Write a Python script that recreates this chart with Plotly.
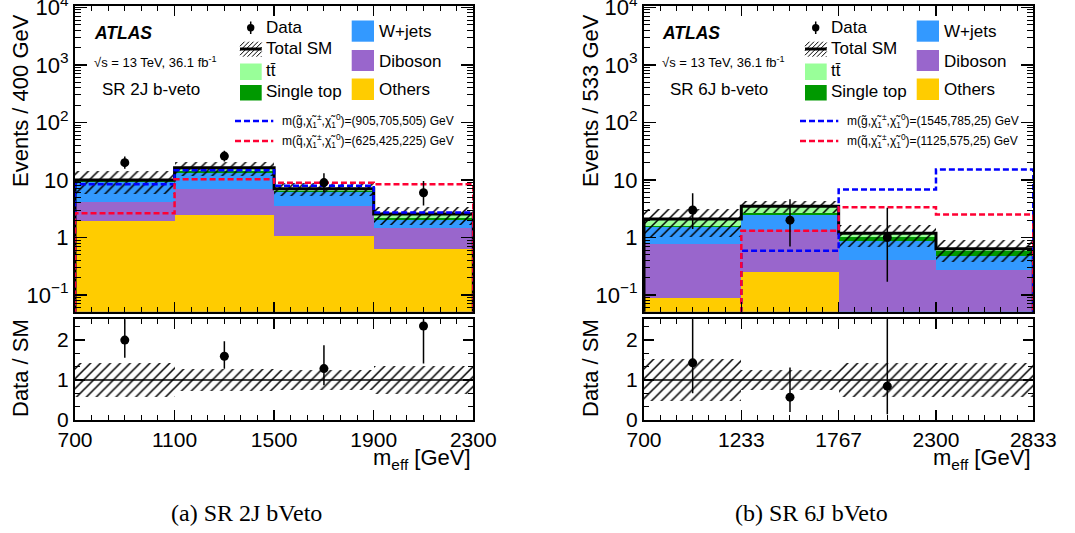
import numpy as np
import plotly.graph_objects as go

W, H = 1075, 533
FONT = "Liberation Sans"
SERIF = "Liberation Serif"

# ---------------- data ----------------
edges_2j = [700, 1100, 1500, 1900, 2300]
edges_6j = [700, 1233.33, 1766.67, 2300, 2833.33]
xtick_text_2j = ["700", "1100", "1500", "1900", "2300"]
xtick_text_6j = ["700", "1233", "1767", "2300", "2833"]

others_2j = [1.9, 2.5, 1.08, 0.62]
diboson_2j = [2.3, 4.4, 2.42, 0.83]
wjets_2j = [5.0, 6.1, 2.7, 0.55]
singletop_2j = [0.3, 1.5, 0.3, 0.2]
ttbar_2j = [0.5, 1.8, 0.5, 0.35]
unc_2j = [0.42, 0.28, 0.26, 0.35]
data_2j = [20, 26, 9, 6]
data_up_2j = [5.5, 6.1, 4.1, 3.6]
data_dn_2j = [4.4, 5.1, 2.9, 2.4]
sig_blue_2j = [8.4, 14.8, 7.95, 2.72]
sig_red_2j = [2.65, 10.3, 8.9, 8.4]

others_6j = [0.087, 0.25, 0.0, 0.0]
diboson_6j = [0.69, 1.1, 0.4, 0.27]
wjets_6j = [0.72, 1.15, 0.48, 0.2]
singletop_6j = [0.08, 0.15, 0.12, 0.11]
ttbar_6j = [0.52, 0.85, 0.18, 0.06]
unc_6j = [0.52, 0.24, 0.42, 0.42]
data_6j = [3, 2, 1, 0]
data_up_6j = [2.9, 2.6, 2.3, 0]
data_dn_6j = [1.6, 1.3, 0.83, 0]
sig_blue_6j = [0.01, 0.59, 6.8, 15.2]
sig_red_6j = [0.01, 1.31, 3.37, 2.5]

sig_blue_label_2j = "m(g\u0303,χ\u0303<sub>1</sub><sup>±</sup>,χ\u0303<sub>1</sub><sup>0</sup>)=(905,705,505) GeV"
sig_red_label_2j = "m(q\u0303,χ\u0303<sub>1</sub><sup>±</sup>,χ\u0303<sub>1</sub><sup>0</sup>)=(625,425,225) GeV"
sig_blue_label_6j = "m(g\u0303,χ\u0303<sub>1</sub><sup>±</sup>,χ\u0303<sub>1</sub><sup>0</sup>)=(1545,785,25) GeV"
sig_red_label_6j = "m(q\u0303,χ\u0303<sub>1</sub><sup>±</sup>,χ\u0303<sub>1</sub><sup>0</sup>)=(1125,575,25) GeV"

C_OTH = "#FFCC00"
C_DIB = "#9966CC"
C_W = "#3399FF"
C_ST = "#009900"
C_TT = "#99FF99"
C_BLUE = "#0000FF"
C_RED = "#FF0033"


def px(x):
    return x / W


def py(y):
    return 1 - y / H


fig = go.Figure()

panels = [
    dict(edges=edges_2j, ticktext=xtick_text_2j,
         comps=[(others_2j, C_OTH), (diboson_2j, C_DIB), (wjets_2j, C_W), (singletop_2j, C_ST), (ttbar_2j, C_TT)],
         unc=unc_2j, data=data_2j, up=data_up_2j, dn=data_dn_2j, s1=sig_blue_2j, s2=sig_red_2j,
         xa="x", ya="y", xr="x2", yr="y2"),
    dict(edges=edges_6j, ticktext=xtick_text_6j,
         comps=[(others_6j, C_OTH), (diboson_6j, C_DIB), (wjets_6j, C_W), (singletop_6j, C_ST), (ttbar_6j, C_TT)],
         unc=unc_6j, data=data_6j, up=data_up_6j, dn=data_dn_6j, s1=sig_blue_6j, s2=sig_red_6j,
         xa="x3", ya="y3", xr="x4", yr="y4"),
]

LOW = 1e-4
hatch = dict(shape="/", fgcolor="black", bgcolor="rgba(0,0,0,0)", size=7, solidity=0.22,
             fgopacity=1, fillmode="overlay")

for p in panels:
    e = p["edges"]
    centers = [(e[i] + e[i + 1]) / 2 for i in range(len(e) - 1)]
    widths = [e[i + 1] - e[i] for i in range(len(e) - 1)]
    vals = np.array([c for c, _ in p["comps"]], dtype=float)
    cum = np.cumsum(vals, axis=0)
    total = cum[-1]
    # stacked histogram drawn as overlaid cumulative bars (top-most first)
    for k in reversed(range(len(p["comps"]))):
        fig.add_trace(go.Bar(x=centers, y=cum[k], width=widths, xaxis=p["xa"], yaxis=p["ya"],
                             marker=dict(color=p["comps"][k][1], line=dict(width=0)),
                             opacity=1, showlegend=False, hoverinfo="skip"))
    unc = np.array(p["unc"])
    # hatched uncertainty band
    fig.add_trace(go.Bar(x=centers, y=total * 2 * unc, base=total * (1 - unc), width=widths,
                         xaxis=p["xa"], yaxis=p["ya"],
                         marker=dict(color="rgba(0,0,0,0)", line=dict(width=0), pattern=hatch),
                         showlegend=False, hoverinfo="skip"))
    xs = [e[0]] + list(e) + [e[-1]]
    # total SM line
    fig.add_trace(go.Scatter(x=xs, y=[LOW] + list(total) + [total[-1], LOW], mode="lines",
                             line=dict(shape="hv", color="black", width=3),
                             xaxis=p["xa"], yaxis=p["ya"], showlegend=False, hoverinfo="skip"))
    # signals
    for s, col in ((p["s1"], C_BLUE), (p["s2"], C_RED)):
        fig.add_trace(go.Scatter(x=xs, y=[LOW] + list(s) + [s[-1], LOW], mode="lines",
                                 line=dict(shape="hv", color=col, width=2.5, dash="6px,3px"),
                                 xaxis=p["xa"], yaxis=p["ya"], showlegend=False, hoverinfo="skip"))
    # data
    idx = [i for i, d in enumerate(p["data"]) if d > 0]
    dx = [centers[i] for i in idx]
    dy = [p["data"][i] for i in idx]
    dup = [p["up"][i] for i in idx]
    ddn = [p["dn"][i] for i in idx]
    fig.add_trace(go.Scatter(x=dx, y=dy, mode="markers",
                             marker=dict(color="black", size=9),
                             error_y=dict(type="data", array=dup, arrayminus=ddn, color="black", thickness=1.5, width=0),
                             xaxis=p["xa"], yaxis=p["ya"], showlegend=False, hoverinfo="skip"))
    # ratio panel
    fig.add_trace(go.Bar(x=centers, y=2 * unc, base=1 - unc, width=widths,
                         xaxis=p["xr"], yaxis=p["yr"],
                         marker=dict(color="rgba(0,0,0,0)", line=dict(width=0), pattern=hatch),
                         showlegend=False, hoverinfo="skip"))
    fig.add_trace(go.Scatter(x=[e[0], e[-1]], y=[1, 1], mode="lines", line=dict(color="black", width=1.5),
                             xaxis=p["xr"], yaxis=p["yr"], showlegend=False, hoverinfo="skip"))
    rt = [total[i] for i in idx]
    fig.add_trace(go.Scatter(x=dx, y=[d / t for d, t in zip(dy, rt)], mode="markers",
                             marker=dict(color="black", size=9),
                             error_y=dict(type="data", array=[u / t for u, t in zip(dup, rt)],
                                          arrayminus=[u / t for u, t in zip(ddn, rt)],
                                          color="black", thickness=1.5, width=0),
                             xaxis=p["xr"], yaxis=p["yr"], showlegend=False, hoverinfo="skip"))

# ---------------- axes ----------------
XL = [75, 473.3]
XR = [644, 1033.3]
YM = [6.2, 311.7]
YRt = [319.3, 420]

base_ax = dict(showline=True, linecolor="black", linewidth=2, mirror="ticks", ticks="inside",
               tickcolor="black", tickwidth=1.5, showgrid=False, zeroline=False, automargin=False,
               ticklabeloverflow="allow",
               tickfont=dict(family=FONT, size=21, color="black"))

minor_logvals = [d * 10.0 ** ex for ex in range(-2, 4) for d in range(2, 10)]
minor_logvals = [v for v in minor_logvals if 0.05 <= v <= 1e4]
logvals = [0.1, 1, 10, 100, 1000, 10000]
logtext = ["10<sup>\u22121</sup>", "1", "10", "10<sup>2</sup>", "10<sup>3</sup>", "10<sup>4</sup>"]


def xaxis_def(xd, yanchor, p, labels):
    e = p["edges"]
    d = dict(base_ax)
    d.update(domain=[px(xd[0]), px(xd[1])], anchor=yanchor, range=[e[0], e[-1]],
             tickmode="array", tickvals=e, ticktext=p["ticktext"], ticklen=10,
             showticklabels=labels,
             minor=dict(ticks="inside", ticklen=5, tickmode="linear", tick0=e[0],
                        dtick=(e[1] - e[0]) / 6, tickcolor="black", tickwidth=1))
    return d


def ymain_def(xanchor):
    d = dict(base_ax)
    d.update(domain=[py(YM[1]), py(YM[0])], anchor=xanchor, type="log", range=[-1.29, 4.02],
             tickmode="array", tickvals=logvals, ticktext=logtext, ticklen=12,
             tickfont=dict(family=FONT, size=22, color="black"),
             minor=dict(ticks="inside", ticklen=6, tickmode="array", tickvals=minor_logvals,
                        tickcolor="black", tickwidth=1))
    return d


def yrat_def(xanchor):
    d = dict(base_ax)
    d.update(domain=[py(YRt[1]), py(YRt[0])], anchor=xanchor, range=[0, 2.52],
             tickmode="array", tickvals=[0, 1, 2], ticktext=["0", "1", "2"], ticklen=10,
             minor=dict(ticks="inside", ticklen=5, tickmode="linear", tick0=0, dtick=1 / 3,
                        tickcolor="black", tickwidth=1))
    return d


layout_axes = dict(
    xaxis=xaxis_def(XL, "y", panels[0], False),
    yaxis=ymain_def("x"),
    xaxis2=xaxis_def(XL, "y2", panels[0], True),
    yaxis2=yrat_def("x2"),
    xaxis3=xaxis_def(XR, "y3", panels[1], False),
    yaxis3=ymain_def("x3"),
    xaxis4=xaxis_def(XR, "y4", panels[1], True),
    yaxis4=yrat_def("x4"),
)

# ---------------- annotations & legend shapes ----------------
annotations = []
shapes = []


def text(x, y, s, size, xanchor="left", angle=0, family=FONT, yanchor="middle"):
    annotations.append(dict(x=px(x), y=py(y), xref="paper", yref="paper", text=s, showarrow=False,
                            xanchor=xanchor, yanchor=yanchor, textangle=angle,
                            font=dict(family=family, size=size, color="black")))


def rect(x0, y0, x1, y1, color):
    shapes.append(dict(type="rect", xref="paper", yref="paper", x0=px(x0), x1=px(x1), y0=py(y1), y1=py(y0),
                       fillcolor=color, line=dict(width=0), layer="above"))


def seg(x0, y0, x1, y1, color="black", width=1.0, dash="solid"):
    shapes.append(dict(type="line", xref="paper", yref="paper", x0=px(x0), x1=px(x1), y0=py(y0), y1=py(y1),
                       line=dict(color=color, width=width, dash=dash), layer="above"))


def hatch_box(x0, y0, x1, y1, step=4.5):
    h = y1 - y0
    c = x0 - h
    while c < x1:
        sx, sy = c, y1
        ex, ey = c + h, y0
        if sx < x0:
            t = x0 - sx
            sx, sy = x0, y1 - t
        if ex > x1:
            t = ex - x1
            ex, ey = x1, y0 + t
        if ex > sx:
            seg(sx, sy, ex, ey, width=1)
        c += step


titles = [("Events / 400 GeV", "SR 2J b-veto", sig_blue_label_2j, sig_red_label_2j, 0, 20, 473.3),
          ("Events / 533 GeV", "SR 6J b-veto", sig_blue_label_6j, sig_red_label_6j, 565, 590, 1033.3)]

for ytitle, region, lb, lr, ox, tx, xr in titles:
    text(tx, 101, ytitle, 22, xanchor="center", angle=-90)
    text(tx, 368, "Data / SM", 22, xanchor="center", angle=-90)
    text(xr, 459, "m<sub>eff</sub> [GeV]", 22, xanchor="right")
    text(92 + ox + (3 if ox else 0), 33, "<b><i>ATLAS</i></b>", 17.5)
    text(92 + ox + (3 if ox else 0), 62, "\u221As = 13 TeV, 36.1 fb<sup>-1</sup>", 13)
    text(100 + ox + (3 if ox else 0), 89, region, 17)
    # Data
    shapes.append(dict(type="circle", xref="paper", yref="paper",
                       x0=px(250.7 + ox - 3.7), x1=px(250.7 + ox + 3.7), y0=py(27.7 + 3.7), y1=py(27.7 - 3.7),
                       fillcolor="black", line=dict(width=0), layer="above"))
    seg(250.7 + ox, 21.5, 250.7 + ox, 34, width=1.5)
    text(264 + ox, 27.7, "Data", 17)
    # Total SM
    hatch_box(240 + ox, 41.7, 261.7 + ox, 56.7)
    seg(240 + ox, 49, 261.7 + ox, 49, width=3)
    text(264 + ox, 48.5, "Total SM", 17)
    # ttbar / single top
    rect(240 + ox, 63.5, 261.7 + ox, 80, C_TT)
    text(264 + ox, 71, "tt\u0304", 17)
    rect(240 + ox, 85, 261.7 + ox, 100.5, C_ST)
    text(264 + ox, 92, "Single top", 17)
    # column 2
    rect(351.7 + ox, 20.5, 374 + ox, 41.7, C_W)
    text(377.3 + ox, 31.5, "W+jets", 17)
    rect(351.7 + ox, 50, 374 + ox, 71, C_DIB)
    text(377.3 + ox, 61, "Diboson", 17)
    rect(351.7 + ox, 78.5, 374 + ox, 100, C_OTH)
    text(377.3 + ox, 89.5, "Others", 17)
    # signals
    seg(235 + ox, 121, 273.3 + ox, 121, color=C_BLUE, width=2.5, dash="6px,3px")
    text(280 + ox, 121, lb, 12)
    seg(235 + ox, 141, 273.3 + ox, 141, color=C_RED, width=2.5, dash="6px,3px")
    text(280 + ox, 141, lr, 12)

text(246, 513, "(a) SR 2J bVeto", 24, xanchor="center", family=SERIF)
text(811, 513, "(b) SR 6J bVeto", 24, xanchor="center", family=SERIF)

fig.update_layout(
    template="none",
    width=W, height=H, autosize=False,
    margin=dict(l=0, r=0, t=0, b=0, pad=0),
    paper_bgcolor="white", plot_bgcolor="white",
    barmode="overlay", bargap=0,
    showlegend=False,
    font=dict(family=FONT, color="black"),
    annotations=annotations, shapes=shapes,
    **layout_axes,
)

fig.write_html("out.html", config={"displayModeBar": False, "staticPlot": True},
               post_script="document.body.style.margin='0px';document.body.style.overflow='hidden';")
